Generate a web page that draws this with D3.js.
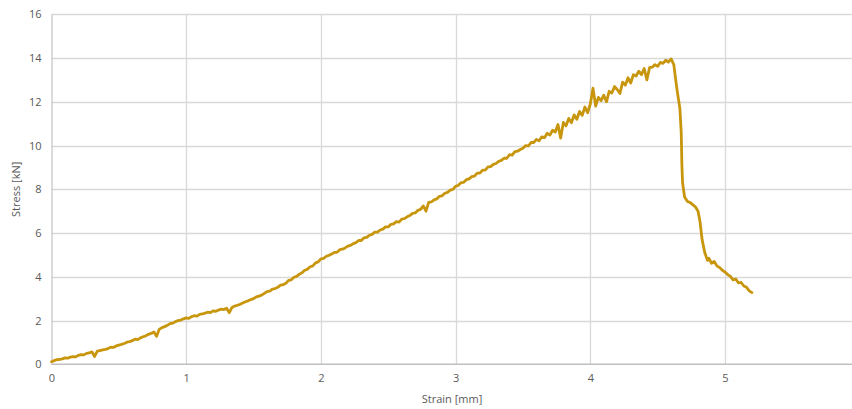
<!DOCTYPE html>
<html>
<head>
<meta charset="utf-8">
<script src="https://cdn.jsdelivr.net/npm/d3@7"></script>
<style>
  html, body { margin: 0; padding: 0; background: #fff; }
  svg { display: block; }
  text { font-family: "Open Sans", "Noto Sans", sans-serif; fill: #595959; }
</style>
</head>
<body>
<svg id="chart" width="852" height="409"></svg>
<script>
// Strain [mm]
const strain = [
  0.00,0.02,0.04,0.06,0.08,0.10,0.12,0.14,0.16,0.18,0.20,0.22,0.24,0.26,0.28,0.30,0.32,0.34,0.36,0.38,
  0.40,0.42,0.44,0.46,0.48,0.50,0.52,0.54,0.56,0.58,0.60,0.62,0.64,0.66,0.68,0.70,0.72,0.74,0.76,0.78,
  0.80,0.82,0.84,0.86,0.88,0.90,0.92,0.94,0.96,0.98,1.00,1.02,1.04,1.06,1.08,1.10,1.12,1.14,1.16,1.18,
  1.20,1.22,1.24,1.26,1.28,1.30,1.32,1.34,1.36,1.38,1.40,1.42,1.44,1.46,1.48,1.50,1.52,1.54,1.56,1.58,
  1.60,1.62,1.64,1.66,1.68,1.70,1.72,1.74,1.76,1.78,1.80,1.82,1.84,1.86,1.88,1.90,1.92,1.94,1.96,1.98,
  2.00,2.02,2.04,2.06,2.08,2.10,2.12,2.14,2.16,2.18,2.20,2.22,2.24,2.26,2.28,2.30,2.32,2.34,2.36,2.38,
  2.40,2.42,2.44,2.46,2.48,2.50,2.52,2.54,2.56,2.58,2.60,2.62,2.64,2.66,2.68,2.70,2.72,2.74,2.76,2.78,
  2.80,2.82,2.84,2.86,2.88,2.90,2.92,2.94,2.96,2.98,3.00,3.02,3.04,3.06,3.08,3.10,3.12,3.14,3.16,3.18,
  3.20,3.22,3.24,3.26,3.28,3.30,3.32,3.34,3.36,3.38,3.40,3.42,3.44,3.46,3.48,3.50,3.52,3.54,3.56,3.58,
  3.60,3.62,3.64,3.66,3.68,3.70,3.72,3.74,3.76,3.78,3.80,3.82,3.84,3.86,3.88,3.90,3.92,3.94,3.96,3.98,
  4.00,4.02,4.04,4.06,4.08,4.10,4.12,4.14,4.16,4.18,4.20,4.22,4.24,4.26,4.28,4.30,4.32,4.34,4.36,4.38,
  4.40,4.42,4.44,4.46,4.48,4.50,4.52,4.54,4.56,4.58,4.60,4.62,4.63,4.645,4.665,4.675,4.68,4.685,4.70,4.72,
  4.74,4.76,4.78,4.80,4.815,4.83,4.85,4.87,4.88,4.90,4.92,4.94,4.96,4.98,5.00,5.02,5.04,5.06,5.08,5.10,
  5.12,5.14,5.16,5.18,5.20
];
// Stress [kN]
const stress = [
  0.12,0.17,0.21,0.22,0.25,0.29,0.28,0.33,0.35,0.34,0.41,0.44,0.43,0.50,0.52,0.57,0.36,0.60,0.63,0.66,
  0.68,0.72,0.78,0.77,0.84,0.88,0.91,0.95,1.01,1.04,1.08,1.15,1.13,1.21,1.26,1.30,1.37,1.41,1.48,1.28,
  1.60,1.68,1.72,1.78,1.86,1.88,1.95,2.00,2.02,2.08,2.12,2.10,2.18,2.22,2.20,2.28,2.30,2.34,2.38,2.36,
  2.44,2.42,2.48,2.52,2.50,2.56,2.36,2.60,2.66,2.70,2.74,2.80,2.86,2.90,2.96,3.00,3.08,3.12,3.16,3.24,
  3.32,3.34,3.44,3.46,3.52,3.62,3.64,3.70,3.84,3.86,3.98,4.02,4.12,4.18,4.30,4.34,4.46,4.50,4.64,4.68,
  4.82,4.84,4.94,4.98,5.04,5.12,5.12,5.24,5.26,5.32,5.40,5.44,5.52,5.56,5.66,5.66,5.78,5.80,5.90,5.94,
  6.04,6.04,6.14,6.18,6.28,6.28,6.40,6.42,6.52,6.50,6.64,6.66,6.74,6.80,6.90,6.92,7.04,7.08,7.24,7.00,
  7.40,7.42,7.52,7.56,7.68,7.70,7.82,7.86,7.96,8.00,8.14,8.18,8.30,8.32,8.44,8.48,8.58,8.60,8.74,8.74,
  8.88,8.88,9.02,9.04,9.14,9.18,9.28,9.32,9.42,9.42,9.58,9.56,9.72,9.74,9.82,9.88,10.00,9.98,10.14,10.14,
  10.28,10.22,10.40,10.36,10.56,10.48,10.70,10.62,10.96,10.34,11.06,10.90,11.24,11.04,11.40,11.20,11.56,11.38,11.76,11.50,
  11.90,12.62,11.80,12.20,12.05,12.30,12.00,12.48,12.40,12.70,12.56,12.38,12.90,12.76,13.10,12.86,13.24,13.18,13.40,13.24,
  13.52,13.00,13.56,13.58,13.70,13.62,13.80,13.76,13.90,13.82,13.96,13.70,13.20,12.50,11.70,10.60,9.10,8.30,7.65,7.45,
  7.40,7.30,7.20,7.00,6.50,5.70,5.10,4.75,4.85,4.62,4.70,4.50,4.42,4.30,4.22,4.10,4.02,3.86,3.90,3.72,
  3.74,3.58,3.52,3.36,3.28
];
const xTicks = [0, 1, 2, 3, 4, 5];
const yTicks = [0, 2, 4, 6, 8, 10, 12, 14, 16];
const xTitle = "Strain [mm]";
const yTitle = "Stress [kN]";

(function () {
  const data = strain.map((s, i) => ({ x: s, y: stress[i] }));

  const svg = d3.select("#chart");
  const pLeft = 51.5, pTop = 14.3, pBottom = 364.3;
  const x = d3.scaleLinear().domain([0, 6]).range([pLeft, pLeft + 6 * 134.7]);
  const y = d3.scaleLinear().domain([0, 16]).range([pBottom, pTop]);

  // gridlines
  const g = svg.append("g");
  g.selectAll(".hg").data(yTicks.filter(d => d > 0)).join("line")
    .attr("x1", pLeft).attr("x2", 852)
    .attr("y1", d => Math.round(y(d)) + 0.5).attr("y2", d => Math.round(y(d)) + 0.5)
    .attr("stroke", "#d9d9d9").attr("stroke-width", 1.3);
  g.selectAll(".vg").data(xTicks.filter(d => d > 0)).join("line")
    .attr("y1", pTop).attr("y2", pBottom)
    .attr("x1", d => Math.round(x(d)) + 0.5).attr("x2", d => Math.round(x(d)) + 0.5)
    .attr("stroke", "#d9d9d9").attr("stroke-width", 1.3);

  // axes
  const xAxis = d3.axisBottom(x).tickValues(xTicks).tickSize(0).tickPadding(10).tickFormat(d3.format("d"));
  const yAxis = d3.axisLeft(y).tickValues(yTicks).tickSize(0).tickPadding(10).tickFormat(d3.format("d"));
  const xa = svg.append("g").attr("transform", `translate(0,${pBottom})`).call(xAxis);
  xa.select(".domain").attr("stroke", "#bfbfbf").attr("stroke-width", 1.5).attr("d", `M${pLeft},0H852`);
  const ya = svg.append("g").attr("transform", `translate(${pLeft},0)`).call(yAxis);
  ya.select(".domain").attr("stroke", "#c8c8c8").attr("stroke-width", 1.3);
  svg.selectAll(".tick text").attr("font-size", 11).style("fill", "#595959")
    .attr("font-family", "'Open Sans', sans-serif");

  // titles
  svg.append("text").attr("x", 452).attr("y", 403).attr("text-anchor", "middle")
    .attr("font-size", 11).text(xTitle);
  svg.append("text").attr("transform", `translate(20,${(pTop + pBottom) / 2}) rotate(-90)`)
    .attr("text-anchor", "middle").attr("font-size", 11).text(yTitle);

  // line
  const line = d3.line().x(d => x(d.x)).y(d => y(d.y));
  svg.append("path").datum(data).attr("d", line)
    .attr("fill", "none").attr("stroke", "#c8960c").attr("stroke-width", 2.8)
    .attr("stroke-linejoin", "round").attr("stroke-linecap", "round");
})();
</script>
</body>
</html>
